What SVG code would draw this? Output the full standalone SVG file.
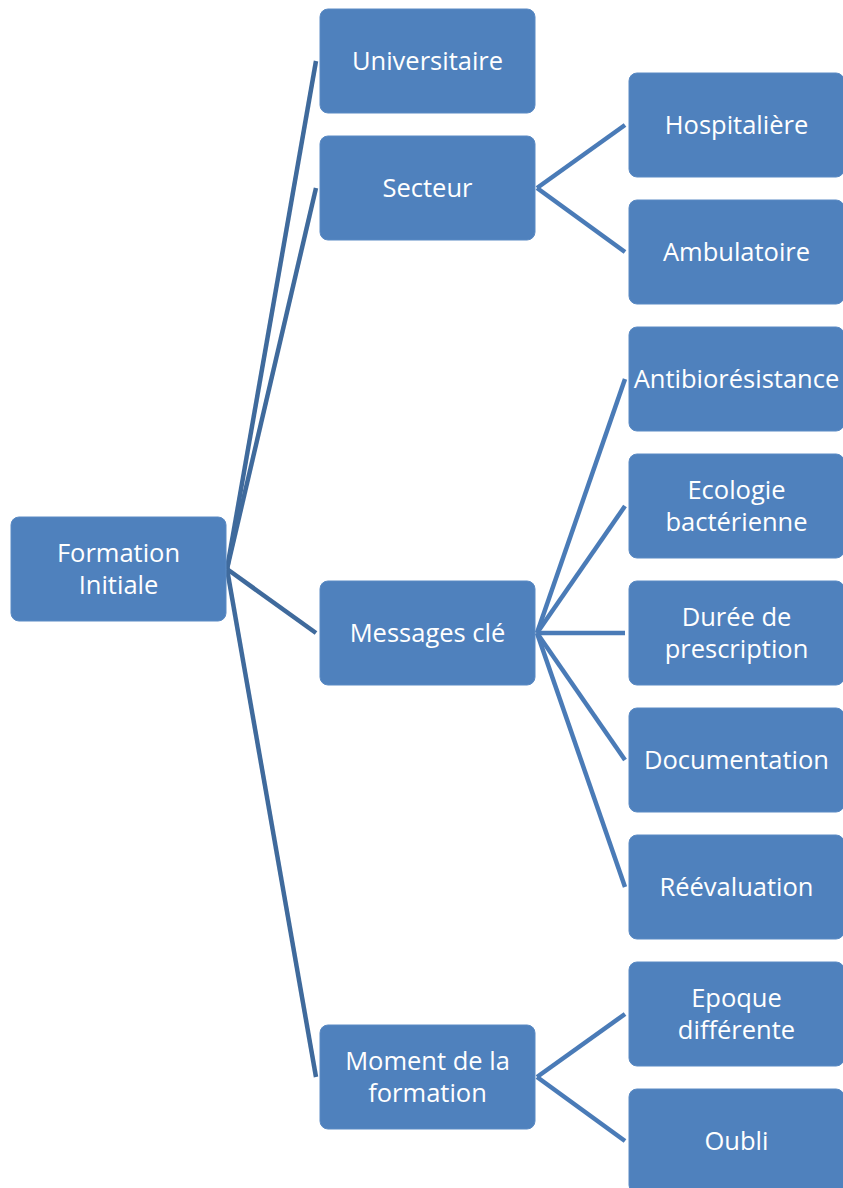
<svg xmlns="http://www.w3.org/2000/svg" width="843" height="1188" viewBox="0 0 843 1188">
<style>
.box{fill:#4f81bd;stroke:#5a8ac4;stroke-width:1}
.t{fill:#ffffff;font-family:"Open Sans","Noto Sans",sans-serif;font-size:25.5px;text-anchor:middle}
.c1{stroke:#3f6a9c;stroke-width:4.5;fill:none}
.c2{stroke:#4a7bb7;stroke-width:4.5;fill:none}
</style>
<rect width="843" height="1188" fill="#ffffff"/>
<g id="connectors">
<line class="c1" x1="227" y1="569" x2="316" y2="61"/>
<line class="c1" x1="227" y1="569" x2="316" y2="188"/>
<line class="c1" x1="227" y1="569" x2="316" y2="633"/>
<line class="c1" x1="227" y1="569" x2="316" y2="1077"/>
<line class="c2" x1="537" y1="188" x2="625" y2="125"/>
<line class="c2" x1="537" y1="188" x2="625" y2="252"/>
<line class="c2" x1="537" y1="633" x2="625" y2="379"/>
<line class="c2" x1="537" y1="633" x2="625" y2="506"/>
<line class="c2" x1="537" y1="633" x2="625" y2="633"/>
<line class="c2" x1="537" y1="633" x2="625" y2="760"/>
<line class="c2" x1="537" y1="633" x2="625" y2="887"/>
<line class="c2" x1="537" y1="1077" x2="625" y2="1014"/>
<line class="c2" x1="537" y1="1077" x2="625" y2="1141"/>
</g>
<g id="n-formation"><rect class="box" x="11" y="517" width="215" height="104" rx="8"/><text class="t" x="118.5" y="562">Formation</text><text class="t" x="118.5" y="594">Initiale</text></g>
<g id="n-universitaire"><rect class="box" x="320" y="9" width="215" height="104" rx="8"/><text class="t" x="427.5" y="70">Universitaire</text></g>
<g id="n-secteur"><rect class="box" x="320" y="136" width="215" height="104" rx="8"/><text class="t" x="427.5" y="197">Secteur</text></g>
<g id="n-messages"><rect class="box" x="320" y="581" width="215" height="104" rx="8"/><text class="t" x="427.5" y="642">Messages clé</text></g>
<g id="n-moment"><rect class="box" x="320" y="1025" width="215" height="104" rx="8"/><text class="t" x="427.5" y="1070">Moment de la</text><text class="t" x="427.5" y="1102">formation</text></g>
<g id="n-hospitaliere"><rect class="box" x="629" y="73" width="215" height="104" rx="8"/><text class="t" x="736.5" y="134">Hospitalière</text></g>
<g id="n-ambulatoire"><rect class="box" x="629" y="200" width="215" height="104" rx="8"/><text class="t" x="736.5" y="261">Ambulatoire</text></g>
<g id="n-antibio"><rect class="box" x="629" y="327" width="215" height="104" rx="8"/><text class="t" x="736.5" y="388">Antibiorésistance</text></g>
<g id="n-ecologie"><rect class="box" x="629" y="454" width="215" height="104" rx="8"/><text class="t" x="736.5" y="499">Ecologie</text><text class="t" x="736.5" y="531">bactérienne</text></g>
<g id="n-duree"><rect class="box" x="629" y="581" width="215" height="104" rx="8"/><text class="t" x="736.5" y="626">Durée de</text><text class="t" x="736.5" y="658">prescription</text></g>
<g id="n-documentation"><rect class="box" x="629" y="708" width="215" height="104" rx="8"/><text class="t" x="736.5" y="769">Documentation</text></g>
<g id="n-reevaluation"><rect class="box" x="629" y="835" width="215" height="104" rx="8"/><text class="t" x="736.5" y="896">Réévaluation</text></g>
<g id="n-epoque"><rect class="box" x="629" y="962" width="215" height="104" rx="8"/><text class="t" x="736.5" y="1007">Epoque</text><text class="t" x="736.5" y="1039">différente</text></g>
<g id="n-oubli"><rect class="box" x="629" y="1089" width="215" height="104" rx="8"/><text class="t" x="736.5" y="1150">Oubli</text></g>
</svg>
